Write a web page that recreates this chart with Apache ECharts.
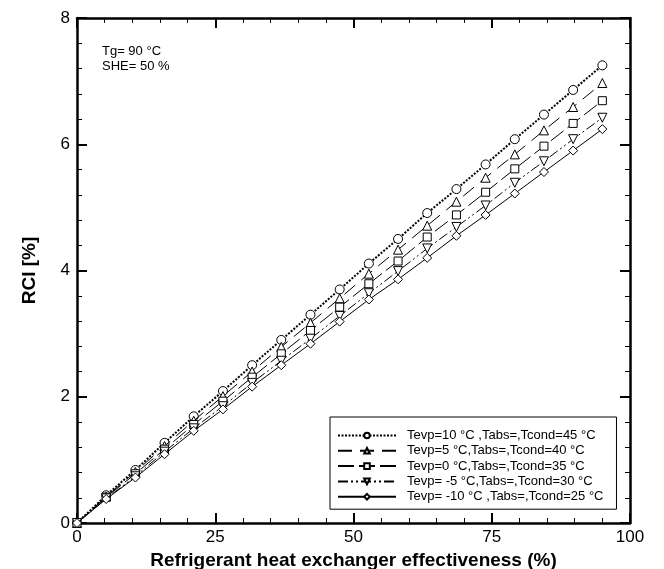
<!DOCTYPE html>
<html>
<head>
<meta charset="utf-8">
<script src="https://cdn.jsdelivr.net/npm/echarts@6/dist/echarts.min.js"></script>
<style>html,body{margin:0;padding:0;background:#fff}#c{width:664px;height:569px}</style>
</head>
<body>
<div id="c"></div>
<script>
const xValues = [0, 5.28, 10.56, 15.83, 21.11, 26.39, 31.67, 36.94, 42.22, 47.5, 52.78, 58.06, 63.33, 68.61, 73.89, 79.17, 84.44, 89.72, 95];
const seriesNames = [
  "Tevp=10 °C ,Tabs=,Tcond=45 °C",
  "Tevp=5 °C,Tabs=,Tcond=40 °C",
  "Tevp=0 °C,Tabs=,Tcond=35 °C",
  "Tevp= -5 °C,Tabs=,Tcond=30 °C",
  "Tevp= -10 °C ,Tabs=,Tcond=25 °C"
];
const rciTevp10 = [0, 0.44, 0.84, 1.27, 1.69, 2.09, 2.50, 2.90, 3.30, 3.70, 4.11, 4.50, 4.91, 5.29, 5.68, 6.08, 6.47, 6.86, 7.25];
const rciTevp5  = [0, 0.42, 0.81, 1.22, 1.62, 2.01, 2.40, 2.79, 3.17, 3.56, 3.95, 4.33, 4.71, 5.09, 5.47, 5.84, 6.22, 6.59, 6.97];
const rciTevp0  = [0, 0.41, 0.78, 1.17, 1.56, 1.93, 2.31, 2.68, 3.05, 3.42, 3.79, 4.15, 4.53, 4.88, 5.24, 5.61, 5.97, 6.33, 6.69];
const rciTevpM5 = [0, 0.39, 0.74, 1.13, 1.50, 1.85, 2.22, 2.57, 2.92, 3.28, 3.64, 3.99, 4.35, 4.69, 5.03, 5.39, 5.73, 6.08, 6.42];
const rciTevpM10= [0, 0.38, 0.72, 1.09, 1.46, 1.80, 2.16, 2.50, 2.84, 3.19, 3.54, 3.86, 4.20, 4.55, 4.88, 5.22, 5.56, 5.90, 6.24];
const xTicks = [0, 25, 50, 75, 100];
const yTicks = [0, 2, 4, 6, 8];
const noteLines = ["Tg= 90 °C", "SHE= 50 %"];

const allY = [rciTevp10, rciTevp5, rciTevp0, rciTevpM5, rciTevpM10];
const symbols = ['circle', 'triangle', 'rect', 'triangle', 'diamond'];
const symbolRotates = [0, 0, 0, 180, 0];
const symbolSizes = [9, 9, 8, 9, 9];
const dashes = [[2, 1.5], [14, 8], [16, 5], [10, 3, 2, 3, 2, 3], 'solid'];
const lineWidths = [2, 1, 1, 1, 1];

const FONT = '"Liberation Sans", Arial, sans-serif';
const chart = echarts.init(document.getElementById('c'), null, {renderer: 'canvas'});

function axisBase(extra) {
  return Object.assign({
    min: 0,
    axisLine: {show: true, onZero: false, lineStyle: {color: '#000', width: 2.5}},
    axisTick: {show: true, inside: true, length: 10, lineStyle: {color: '#000', width: 2}},
    minorTick: {show: true, splitNumber: 5, length: 5, lineStyle: {color: '#000', width: 1}},
    splitLine: {show: false},
    minorSplitLine: {show: false}
  }, extra);
}

const series = allY.map((ys, i) => ({
  name: seriesNames[i],
  type: 'line',
  xAxisIndex: 0,
  yAxisIndex: 0,
  data: xValues.map((x, j) => [x, ys[j]]),
  symbol: symbols[i],
  symbolRotate: symbolRotates[i],
  symbolSize: symbolSizes[i],
  showAllSymbol: true,
  lineStyle: {color: '#000', width: lineWidths[i], type: dashes[i]},
  itemStyle: {color: '#fff', borderColor: '#000', borderWidth: 1},
  emphasis: {disabled: true},
  animation: false,
  z: 3 + i
}));

chart.setOption({
  animation: false,
  backgroundColor: '#fff',
  textStyle: {fontFamily: FONT},
  grid: {left: 77, right: 34, top: 18, bottom: 46, containLabel: false, outerBoundsMode: 'none'},
  xAxis: [
    axisBase({
      type: 'value', position: 'bottom', max: 100, interval: 25,
      axisLabel: {show: true, color: '#000', fontSize: 17, fontFamily: FONT, margin: 6,
        formatter: v => xTicks.includes(v) ? String(v) : ''},
      name: 'Refrigerant heat exchanger effectiveness (%)',
      nameLocation: 'middle', nameGap: 27,
      nameTextStyle: {color: '#000', fontSize: 19, fontWeight: 'bold', fontFamily: FONT}
    }),
    axisBase({
      type: 'value', position: 'top', max: 100, interval: 25,
      axisLabel: {show: false}
    })
  ],
  yAxis: [
    axisBase({
      type: 'value', position: 'left', max: 8, interval: 2,
      axisLabel: {show: true, color: '#000', fontSize: 17, fontFamily: FONT, margin: 7,
        formatter: v => yTicks.includes(v) ? String(v) : ''},
      name: 'RCI [%]', nameLocation: 'middle', nameGap: 38, nameRotate: 90,
      nameTextStyle: {color: '#000', fontSize: 19, fontWeight: 'bold', fontFamily: FONT}
    }),
    axisBase({
      type: 'value', position: 'right', max: 8, interval: 2,
      axisLabel: {show: false}
    })
  ],
  legend: {
    show: true,
    orient: 'vertical',
    left: 330, top: 417,
    padding: [12, 13, 6, 7],
    itemWidth: 58, itemHeight: 7, itemGap: 2.3,
    backgroundColor: '#fff',
    borderColor: '#000', borderWidth: 1,
    textStyle: {color: '#000', fontSize: 13, fontFamily: FONT, padding: [0, 0, 0, 6]},
    data: seriesNames
  },
  graphic: noteLines.map((t, i) => ({
    type: 'text', left: 102, top: 45 + i * 15,
    style: {text: t, fill: '#000', font: '13px ' + FONT}
  })),
  series: series
});
</script>
</body>
</html>
